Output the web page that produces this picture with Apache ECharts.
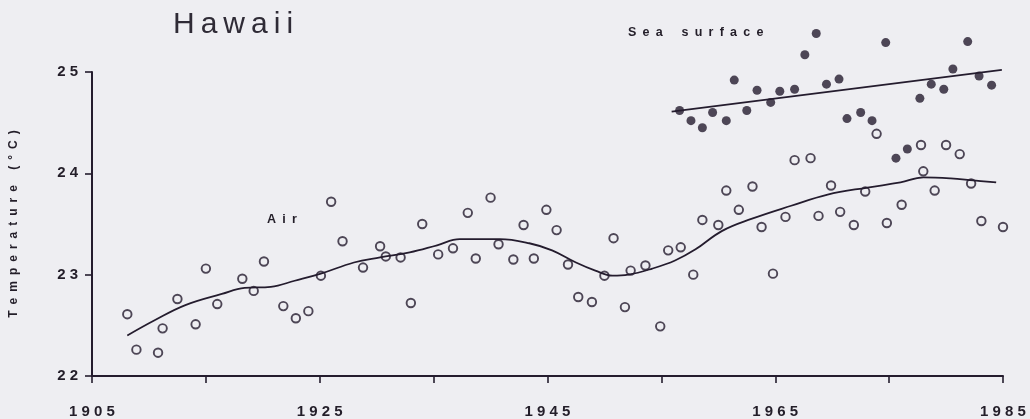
<!DOCTYPE html>
<html>
<head>
<meta charset="utf-8">
<script src="https://cdn.jsdelivr.net/npm/echarts@6/dist/echarts.min.js"></script>
<style>
html,body{margin:0;padding:0;background:#eeeef2;}
#chart{width:1030px;height:419px;}
</style>
</head>
<body>
<div id="chart"></div>
<script>
// Air temperature (open circles)
const airYears = [1908.1,1908.9,1910.8,1911.2,1912.5,1914.1,1915.0,1916.0,1918.2,1919.2,
  1920.1,1921.8,1922.9,1924.0,1925.1,1926.0,1927.0,1928.8,1930.3,1930.8,
  1932.1,1933.0,1934.0,1935.4,1936.7,1938.0,1938.7,1940.0,1940.7,1942.0,
  1942.9,1943.8,1944.9,1945.8,1946.8,1947.7,1948.9,1950.0,1950.8,1951.8,
  1952.3,1953.6,1954.9,1955.6,1956.7,1957.8,1958.6,1960.0,1960.7,1961.8,
  1963.0,1963.8,1964.8,1965.9,1966.7,1968.1,1968.8,1969.9,1970.7,1971.9,
  1972.9,1973.9,1974.8,1976.1,1977.8,1978.0,1979.0,1980.0,1981.2,1982.2,
  1983.1,1985.0];
const airTemps = [22.61,22.26,22.23,22.47,22.76,22.51,23.06,22.71,22.96,22.84,
  23.13,22.69,22.57,22.64,22.99,23.72,23.33,23.07,23.28,23.18,
  23.17,22.72,23.50,23.20,23.26,23.61,23.16,23.76,23.30,23.15,
  23.49,23.16,23.64,23.44,23.10,22.78,22.73,22.99,23.36,22.68,
  23.04,23.09,22.49,23.24,23.27,23.00,23.54,23.49,23.83,23.64,
  23.87,23.47,23.01,23.57,24.13,24.15,23.58,23.88,23.62,23.49,
  23.82,24.39,23.51,23.69,24.28,24.02,23.83,24.28,24.19,23.90,
  23.53,23.47];

// Sea surface temperature (filled circles)
const seaYears = [1956.6,1957.6,1958.6,1959.5,1960.7,1961.4,1962.5,1963.4,1964.6,1965.4,
  1966.7,1967.6,1968.6,1969.5,1970.6,1971.3,1972.5,1973.5,1974.7,1975.6,
  1976.6,1977.7,1978.7,1979.8,1980.6,1981.9,1982.9,1984.0];
const seaTemps = [24.62,24.52,24.45,24.60,24.52,24.92,24.62,24.82,24.70,24.81,
  24.83,25.17,25.38,24.88,24.93,24.54,24.60,24.52,25.29,24.15,
  24.24,24.74,24.88,24.83,25.03,25.30,24.96,24.87];

// Smoothed air curve
const airTrendYears = [1908.1,1910.5,1913.2,1916.4,1918.4,1920.7,1922.8,1925.1,1928.0,1930.3,
  1932.9,1935.3,1937.3,1940.8,1943.4,1945.4,1947.5,1949.2,1950.7,1952.1,
  1954.2,1956.2,1958.0,1960.3,1962.9,1966.4,1969.6,1973.1,1976.0,1978.0,
  1980.4,1982.4,1984.4];
const airTrendTemps = [22.40,22.55,22.70,22.81,22.87,22.88,22.94,23.01,23.12,23.17,
  23.22,23.29,23.35,23.35,23.31,23.24,23.12,23.04,22.99,23.00,
  23.06,23.14,23.25,23.43,23.55,23.68,23.79,23.86,23.91,23.96,
  23.95,23.93,23.91];

// Sea surface linear trend
const seaTrendYears = [1955.9,1984.9];
const seaTrendTemps = [24.61,25.02];

// Ticks
const xTickLabels = [1905,1925,1945,1965,1985];
const yTickLabels = [22,23,24,25];

const INK = '#241c2e';
const TEXT = '#231e29';
const zip = (a,b) => a.map((v,i)=>[v,b[i]]);
const spaced = (s, sep) => s.split('').join(sep);

const chart = echarts.init(document.getElementById('chart'), null, {renderer:'canvas'});
chart.setOption({
  backgroundColor: '#eeeef2',
  animation: false,
  grid: {left: 86.5, right: 27, top: 72, bottom: 41, containLabel: false},
  xAxis: {
    type: 'value', min: 1905, max: 1985, interval: 10,
    axisLine: {show: true, onZero: false, lineStyle: {color: INK, width: 2}},
    axisTick: {show: true, length: 7, lineStyle: {color: INK, width: 1.6}},
    splitLine: {show: false},
    axisLabel: {
      margin: 28, color: TEXT, fontSize: 15, fontWeight: 'bold', fontFamily: 'Liberation Sans',
      formatter: v => xTickLabels.includes(Math.round(v)) ? spaced(String(Math.round(v)), ' ') : ''
    }
  },
  yAxis: {
    type: 'value', min: 22, max: 25, interval: 1,
    name: spaced('Temperature', '\u2002') + '\u2002\u2002 ' + spaced('(°C)', '\u2002'),
    nameLocation: 'middle', nameGap: 72, nameRotate: 90,
    nameTextStyle: {color: TEXT, fontSize: 12, fontWeight: 'bold', fontFamily: 'Liberation Sans'},
    axisLine: {show: true, lineStyle: {color: INK, width: 2}},
    axisTick: {show: true, length: 7, lineStyle: {color: INK, width: 1.6}},
    splitLine: {show: false},
    axisLabel: {
      margin: 14, color: TEXT, fontSize: 15, fontWeight: 'bold', fontFamily: 'Liberation Sans',
      formatter: v => yTickLabels.includes(Math.round(v)) ? spaced(String(Math.round(v)), ' ') : ''
    }
  },
  series: [
    {
      type: 'line', data: zip(airTrendYears, airTrendTemps), smooth: 0.4,
      symbol: 'none', lineStyle: {color: INK, width: 1.8}, clip: false, z: 2
    },
    {
      type: 'line', data: zip(seaTrendYears, seaTrendTemps),
      symbol: 'none', lineStyle: {color: INK, width: 1.8}, clip: false, z: 2
    },
    {
      type: 'scatter', data: zip(airYears, airTemps), symbol: 'circle', symbolSize: 8.5,
      itemStyle: {color: 'rgba(0,0,0,0)', borderColor: INK, borderWidth: 1.9},
      clip: false, z: 3
    },
    {
      type: 'scatter', data: zip(seaYears, seaTemps), symbol: 'circle', symbolSize: 9,
      itemStyle: {color: INK, borderColor: INK, borderWidth: 0},
      clip: false, z: 3
    }
  ],
  graphic: [
    {type: 'text', left: 173, top: 10,
      style: {text: spaced('Hawaii', '\u2009'), fill: '#2f2b36', font: '30px "Liberation Sans"'}},
    {type: 'text', left: 628, top: 26,
      style: {text: spaced('Sea', '\u2002') + '\u2002\u2002\u2002' + spaced('surface', '\u2002'), fill: TEXT, font: 'bold 12.5px "Liberation Sans"'}},
    {type: 'text', left: 267, top: 213,
      style: {text: spaced('Air', '\u2002'), fill: TEXT, font: 'bold 12.5px "Liberation Sans"'}}
  ]
});
</script>
</body>
</html>
